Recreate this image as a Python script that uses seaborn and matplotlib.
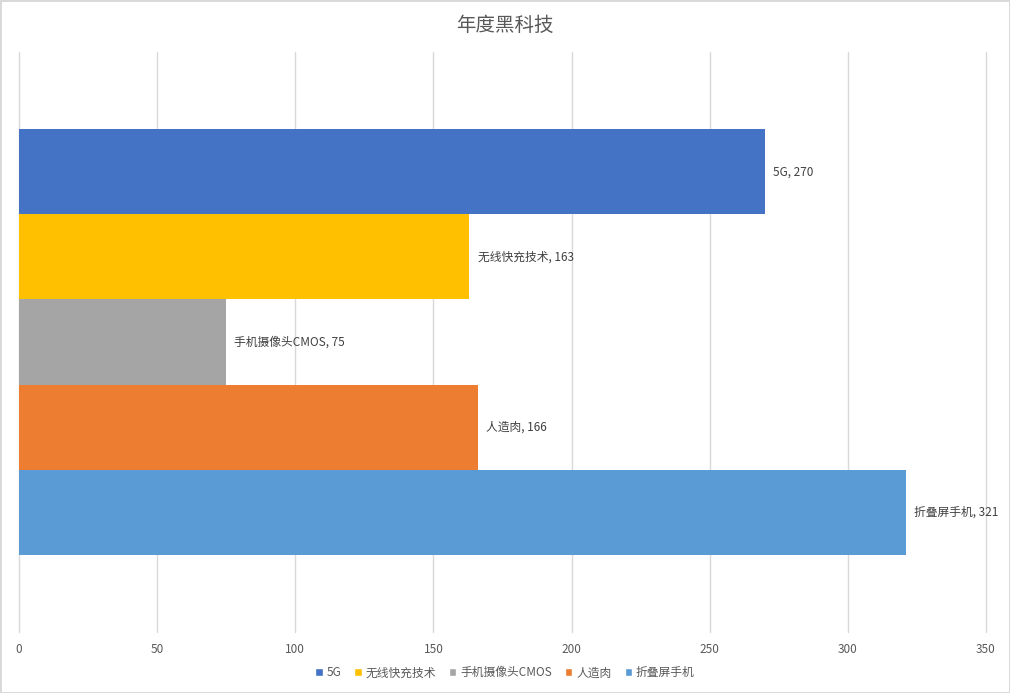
import matplotlib
matplotlib.use("Agg")
import matplotlib.pyplot as plt
import seaborn as sns
import pandas as pd
from matplotlib.patches import Patch

sns.set_style("white")
plt.rcParams["font.family"] = ["Noto Sans CJK SC", "DejaVu Sans"]

# data
names = ["5G", "无线快充技术", "手机摄像头CMOS", "人造肉", "折叠屏手机"]
values = [270, 163, 75, 166, 321]
colors = ["#4472C4", "#FFC000", "#A5A5A5", "#ED7D31", "#5B9BD5"]
x_ticks = [0, 50, 100, 150, 200, 250, 300, 350]

df = pd.DataFrame({"name": names, "value": values})

fig = plt.figure(figsize=(10.1, 6.93), dpi=100)
fig.patch.set_edgecolor("#D9D9D9")
fig.patch.set_linewidth(2)
ax = fig.add_axes([0.0188, 0.088, 0.9574, 0.837])

sns.barplot(data=df, x="value", y="name", hue="name", palette=colors,
            orient="h", width=1.0, legend=False, ax=ax, saturation=1,
            linewidth=0)

ax.set_xlim(0, 350)
ax.set_ylim(5.41, -1.41)
ax.set_xticks(x_ticks)
ax.set_yticks([])
ax.set_xlabel("")
ax.set_ylabel("")
ax.grid(axis="x", color="#D9D9D9", linewidth=1)
for gl in ax.get_xgridlines():
    gl.set_clip_on(False)
ax.set_axisbelow(True)
for s in ax.spines.values():
    s.set_visible(False)
ax.tick_params(axis="x", length=0, labelsize=8.5, labelcolor="#595959", pad=8)

for i, (n, v) in enumerate(zip(names, values)):
    ax.text(v + 3, i, f"{n}, {v}", va="center", ha="left",
            fontsize=8.5, color="#404040")

fig.text(0.5, 0.964, "年度黑科技", ha="center", va="center",
         fontsize=14, color="#595959")

handles = [Patch(facecolor=c, label=n) for n, c in zip(names, colors)]
fig.legend(handles=handles, loc="center", bbox_to_anchor=(0.5, 0.029),
           ncol=5, frameon=False, fontsize=8.5, handlelength=0.6,
           handleheight=0.6, handletextpad=0.35, columnspacing=1.1,
           labelcolor="#595959")

fig.savefig("out.png", dpi=100, edgecolor=fig.get_edgecolor())
